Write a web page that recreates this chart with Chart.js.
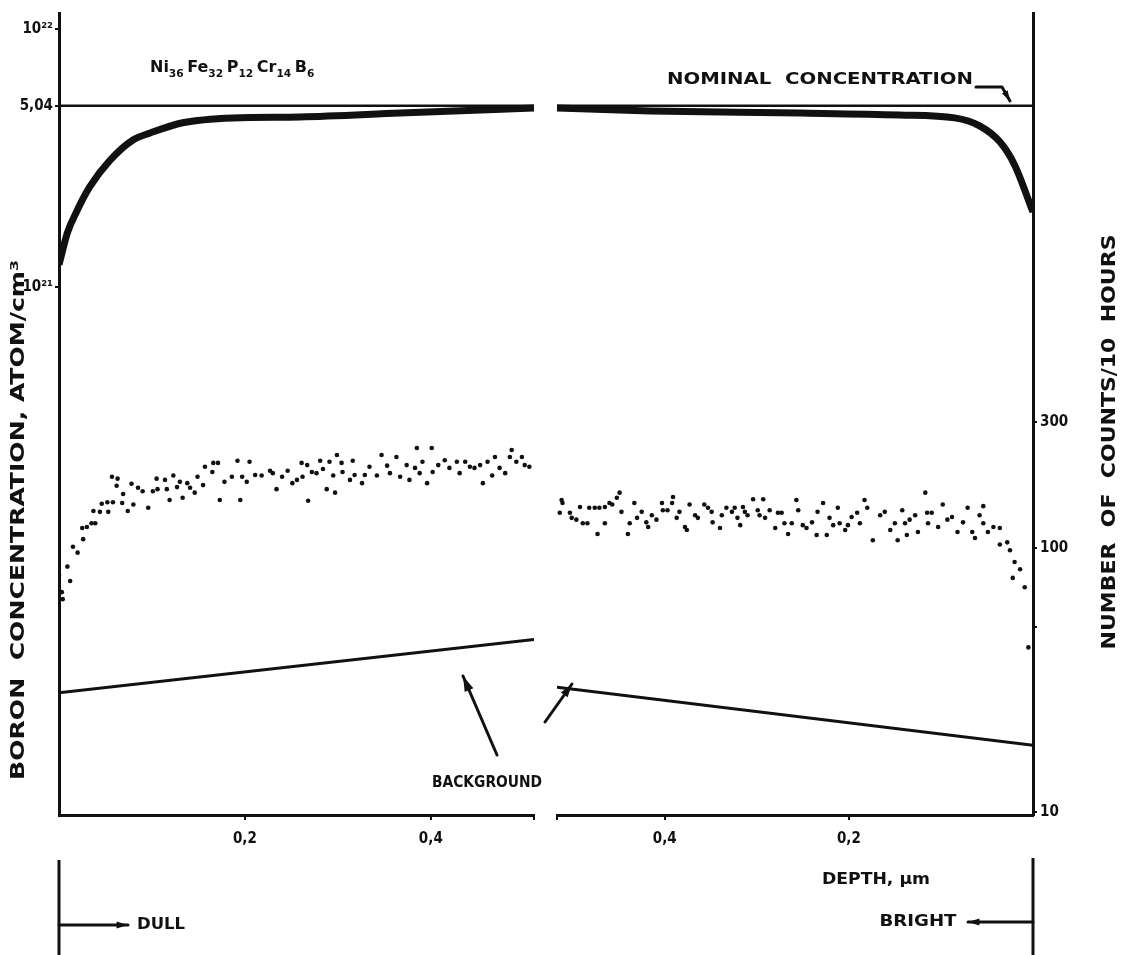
<!DOCTYPE html>
<html>
<head>
<meta charset="utf-8">
<title>Boron depth profile</title>
<script src="https://cdn.jsdelivr.net/npm/chart.js@4"></script>
<style>
  html, body { margin: 0; padding: 0; background: #fff; }
  #wrap { position: relative; width: 1122px; height: 955px; }
  #wrap canvas { position: absolute; left: 0; top: 0; }
</style>
</head>
<body>
<div id="wrap">
  <canvas id="dullChart" width="1122" height="955"></canvas>
  <canvas id="brightChart" width="1122" height="955"></canvas>
</div>
<script>
// --- data ---
// depth in µm, concentration in atom/cm3, counts per 10 hours

const depthTicks = [0.2, 0.4];
const depthTickLabels = ['0,2', '0,4'];
const concTicks = [1e22, 5.04e21, 1e21];
const concTickLabels = ['10²²', '5,04', '10²¹'];
const countTicks = [300, 100, 50, 10];
const countTickLabels = ['300', '100', '', '10'];

const nominalConc = 5.04e21;

// dull side (left panel)
const dullCurveDepth = [0, 0.009, 0.019, 0.033, 0.055, 0.080, 0.098, 0.133, 0.187, 0.259, 0.367, 0.511];
const dullCurveConc = [1.22e21, 1.62e21, 1.96e21, 2.44e21, 3.10e21, 3.72e21, 3.95e21, 4.33e21, 4.52e21, 4.56e21, 4.72e21, 4.94e21];
const dullBgDepth = [0, 0.511];
const dullBgCounts = [28.3, 45];
const dullDepth = [0.000, 0.003, 0.004, 0.009, 0.012, 0.015, 0.020, 0.026, 0.025, 0.030, 0.035, 0.039, 0.037, 0.044, 0.046, 0.052, 0.053, 0.058, 0.057, 0.063, 0.062, 0.069, 0.068, 0.074, 0.080, 0.078, 0.085, 0.090, 0.096, 0.101, 0.105, 0.106, 0.114, 0.116, 0.119, 0.123, 0.127, 0.130, 0.133, 0.138, 0.141, 0.146, 0.149, 0.155, 0.157, 0.165, 0.166, 0.171, 0.173, 0.178, 0.186, 0.192, 0.195, 0.197, 0.202, 0.205, 0.211, 0.218, 0.227, 0.230, 0.234, 0.240, 0.246, 0.251, 0.256, 0.261, 0.262, 0.267, 0.268, 0.272, 0.277, 0.281, 0.284, 0.288, 0.291, 0.295, 0.297, 0.299, 0.304, 0.305, 0.313, 0.316, 0.318, 0.326, 0.329, 0.334, 0.342, 0.347, 0.353, 0.356, 0.363, 0.367, 0.374, 0.377, 0.383, 0.385, 0.388, 0.391, 0.396, 0.401, 0.402, 0.408, 0.415, 0.420, 0.428, 0.431, 0.437, 0.442, 0.447, 0.453, 0.456, 0.461, 0.466, 0.469, 0.474, 0.480, 0.485, 0.487, 0.492, 0.498, 0.501, 0.506];
const dullCounts = [79, 68, 64, 85, 75, 101, 96, 108, 119, 120, 124, 124, 138, 137, 147, 149, 137, 149, 186, 183, 172, 160, 148, 138, 146, 175, 169, 164, 142, 164, 183, 167, 181, 167, 152, 188, 170, 178, 155, 176, 169, 162, 186, 173, 203, 194, 210, 210, 152, 178, 186, 214, 152, 186, 178, 212, 189, 188, 196, 192, 167, 186, 196, 176, 181, 210, 186, 206, 151, 194, 192, 214, 199, 167, 212, 188, 162, 225, 210, 194, 181, 214, 189, 176, 189, 203, 188, 225, 205, 192, 221, 186, 206, 181, 201, 239, 192, 212, 176, 239, 194, 206, 215, 201, 212, 192, 212, 203, 201, 206, 176, 212, 188, 221, 201, 192, 221, 235, 212, 221, 206, 203];

// bright side (right panel, depth runs right to left)
const brightCurveDepth = [0.517, 0.416, 0.253, 0.145, 0.085, 0.058, 0.036, 0.020, 0];
const brightCurveConc = [4.94e21, 4.81e21, 4.72e21, 4.64e21, 4.52e21, 4.21e21, 3.65e21, 2.97e21, 1.95e21];
const brightBgDepth = [0.517, 0];
const brightBgCounts = [29.7, 17.9];
const brightDepth = [0.512, 0.511, 0.514, 0.503, 0.501, 0.496, 0.492, 0.489, 0.484, 0.482, 0.476, 0.473, 0.471, 0.465, 0.465, 0.460, 0.457, 0.452, 0.449, 0.447, 0.440, 0.438, 0.433, 0.430, 0.425, 0.420, 0.418, 0.414, 0.409, 0.403, 0.402, 0.397, 0.392, 0.391, 0.387, 0.384, 0.378, 0.376, 0.373, 0.367, 0.364, 0.357, 0.353, 0.349, 0.348, 0.340, 0.338, 0.333, 0.327, 0.324, 0.321, 0.318, 0.315, 0.313, 0.310, 0.304, 0.299, 0.297, 0.293, 0.291, 0.286, 0.280, 0.277, 0.273, 0.270, 0.266, 0.262, 0.257, 0.255, 0.250, 0.246, 0.240, 0.235, 0.234, 0.228, 0.224, 0.221, 0.217, 0.212, 0.210, 0.204, 0.201, 0.197, 0.191, 0.188, 0.183, 0.180, 0.174, 0.166, 0.161, 0.155, 0.150, 0.147, 0.142, 0.139, 0.137, 0.134, 0.128, 0.125, 0.117, 0.115, 0.114, 0.110, 0.103, 0.098, 0.093, 0.088, 0.082, 0.076, 0.071, 0.066, 0.063, 0.058, 0.054, 0.054, 0.049, 0.043, 0.036, 0.036, 0.028, 0.025, 0.020, 0.022, 0.014, 0.009, 0.005];
const brightCounts = [152, 148, 136, 136, 130, 128, 143, 124, 124, 142, 142, 113, 142, 143, 124, 148, 146, 155, 162, 137, 113, 124, 148, 130, 137, 125, 120, 133, 128, 148, 139, 139, 148, 156, 130, 137, 120, 117, 146, 133, 130, 146, 142, 137, 125, 119, 133, 142, 137, 142, 130, 122, 143, 137, 133, 153, 139, 133, 153, 130, 139, 119, 136, 136, 124, 113, 124, 152, 139, 122, 119, 125, 112, 137, 148, 112, 130, 122, 142, 124, 117, 122, 131, 136, 124, 152, 142, 107, 133, 137, 117, 124, 107, 139, 124, 112, 128, 133, 115, 162, 136, 124, 136, 120, 146, 128, 131, 115, 125, 142, 115, 109, 133, 144, 124, 115, 120, 119, 103, 105, 98, 88.5, 77, 83, 71, 42];

// axis extents
const DULL_DEPTH_MAX = 0.511;
const BRIGHT_DEPTH_MAX = 0.517;
const CONC_MIN = 8.97e18, CONC_MAX = 1.153e22;
const COUNT_MIN = 9.74, COUNT_MAX = 10620;

// --- helpers ---
const FONT = "'DejaVu Sans Condensed', 'DejaVu Sans', sans-serif";
const INK = '#111';

const toPoints = (xs, ys) => xs.map((x, i) => ({ x: x, y: ys[i] }));

function fitText(ctx, text, cx, cy, width, size, rot) {
    ctx.save();
    ctx.font = `bold ${size}px ${FONT}`;
    ctx.fillStyle = INK;
    ctx.textAlign = 'center';
    ctx.textBaseline = 'middle';
    ctx.translate(cx, cy);
    if (rot) ctx.rotate(rot);
    const w = ctx.measureText(text).width;
    ctx.scale(width / w, 1);
    ctx.fillText(text, 0, 0);
    ctx.restore();
}

function arrow(ctx, pts, head) {
    ctx.save();
    ctx.strokeStyle = INK;
    ctx.fillStyle = INK;
    ctx.lineWidth = 3;
    ctx.lineCap = 'round';
    ctx.lineJoin = 'round';
    ctx.beginPath();
    ctx.moveTo(pts[0][0], pts[0][1]);
    for (let i = 1; i < pts.length; i++) ctx.lineTo(pts[i][0], pts[i][1]);
    ctx.stroke();
    const [x1, y1] = pts[pts.length - 2];
    const [x2, y2] = pts[pts.length - 1];
    const a = Math.atan2(y2 - y1, x2 - x1);
    const len = head || 13;
    ctx.beginPath();
    ctx.moveTo(x2, y2);
    ctx.lineTo(x2 - len * Math.cos(a - 0.3), y2 - len * Math.sin(a - 0.3));
    ctx.lineTo(x2 - len * Math.cos(a + 0.3), y2 - len * Math.sin(a + 0.3));
    ctx.closePath();
    ctx.fill();
    ctx.restore();
}

function line(ctx, x1, y1, x2, y2, w) {
    ctx.save();
    ctx.strokeStyle = INK;
    ctx.lineWidth = w || 3;
    ctx.beginPath();
    ctx.moveTo(x1, y1);
    ctx.lineTo(x2, y2);
    ctx.stroke();
    ctx.restore();
}

function drawFormula(ctx, parts, x, y, width) {
    ctx.save();
    ctx.fillStyle = INK;
    ctx.textBaseline = 'alphabetic';
    const big = `bold 15px ${FONT}`, small = `bold 10px ${FONT}`;
    let total = 0;
    parts.forEach(([el, n]) => {
        ctx.font = big; total += ctx.measureText(el).width;
        ctx.font = small; total += ctx.measureText(n).width + 3;
    });
    ctx.translate(x, y);
    ctx.scale(width / total, 1);
    let cx = 0;
    parts.forEach(([el, n]) => {
        ctx.font = big; ctx.fillText(el, cx, 0); cx += ctx.measureText(el).width;
        ctx.font = small; ctx.fillText(n, cx, 5); cx += ctx.measureText(n).width + 3;
    });
    ctx.restore();
}

// --- shared axis settings ---
const tickFont = { family: FONT, weight: 'bold', size: 15 };

function depthAxis(max, reverse) {
    return {
        type: 'linear',
        position: 'bottom',
        min: 0,
        max: max,
        reverse: reverse,
        afterBuildTicks: (s) => { s.ticks = depthTicks.concat([max]).map(v => ({ value: v })); },
        afterFit: (s) => { s.height = 140; },
        ticks: {
            autoSkip: false,
            maxRotation: 0,
            padding: 10,
            color: INK,
            font: tickFont,
            callback: (v) => { const i = depthTicks.indexOf(v); return i >= 0 ? depthTickLabels[i] : ''; }
        },
        grid: { drawOnChartArea: false, drawTicks: true, tickLength: 5, color: INK, lineWidth: 2 },
        border: { display: true, color: INK, width: 3 }
    };
}

function concAxis(show) {
    return {
        type: 'logarithmic',
        position: 'left',
        display: show,
        min: CONC_MIN,
        max: CONC_MAX,
        afterBuildTicks: (s) => { s.ticks = concTicks.map(v => ({ value: v })); },
        afterFit: (s) => { s.width = show ? 59 : 0; },
        ticks: {
            autoSkip: false,
            padding: 2,
            color: INK,
            font: tickFont,
            callback: (v) => { const i = concTicks.indexOf(v); return i >= 0 ? concTickLabels[i] : ''; }
        },
        grid: { drawOnChartArea: false, drawTicks: true, tickLength: 4, color: INK, lineWidth: 2 },
        border: { display: true, color: INK, width: 3 }
    };
}

function countAxis(show) {
    return {
        type: 'logarithmic',
        position: 'right',
        display: show,
        min: COUNT_MIN,
        max: COUNT_MAX,
        afterBuildTicks: (s) => { s.ticks = countTicks.map(v => ({ value: v })); },
        afterFit: (s) => { s.width = show ? 89 : 0; },
        ticks: {
            autoSkip: false,
            padding: 3,
            color: INK,
            font: tickFont,
            callback: (v) => { const i = countTicks.indexOf(v); return i >= 0 ? countTickLabels[i] : ''; }
        },
        grid: { drawOnChartArea: false, drawTicks: true, tickLength: 4, color: INK, lineWidth: 2 },
        border: { display: true, color: INK, width: 3 }
    };
}

function datasets(curveDepth, curveConc, depthMax, bgDepth, bgCounts, depth, counts) {
    return [
        {
            label: 'Nominal concentration',
            data: toPoints([0, depthMax], [nominalConc, nominalConc]),
            yAxisID: 'yc',
            borderColor: INK, borderWidth: 2.5, pointRadius: 0
        },
        {
            label: 'Boron concentration',
            data: toPoints(curveDepth, curveConc),
            yAxisID: 'yc',
            borderColor: INK, borderWidth: 7, pointRadius: 0,
            cubicInterpolationMode: 'monotone', borderCapStyle: 'butt'
        },
        {
            label: 'Background',
            data: toPoints(bgDepth, bgCounts),
            yAxisID: 'yn',
            borderColor: INK, borderWidth: 3, pointRadius: 0
        },
        {
            label: 'Counts',
            data: toPoints(depth, counts),
            yAxisID: 'yn',
            showLine: false,
            pointRadius: 2.3,
            pointBorderWidth: 0,
            pointBackgroundColor: INK
        }
    ];
}

const baseOptions = {
    responsive: false,
    animation: false,
    events: [],
    plugins: { legend: { display: false }, tooltip: { enabled: false } }
};

// --- annotations ---
const dullNotes = {
    id: 'dullNotes',
    afterDraw(chart) {
        const ctx = chart.ctx;
        fitText(ctx, 'BORON  CONCENTRATION, ATOM/cm³', 19, 520, 520, 19, -Math.PI / 2);
        drawFormula(ctx, [['Ni', '36'], ['Fe', '32'], ['P', '12'], ['Cr', '14'], ['B', '6']], 150, 72, 168);
        fitText(ctx, 'BACKGROUND', 487, 783, 110, 15);
        arrow(ctx, [[497, 755], [463, 676]], 16);
        arrow(ctx, [[545, 722], [572, 684]], 14);
        // dull bracket
        line(ctx, 59, 860, 59, 955, 3);
        arrow(ctx, [[59, 925], [128, 925]], 12);
        fitText(ctx, 'DULL', 161, 925, 48, 15);
    }
};

const brightNotes = {
    id: 'brightNotes',
    afterDraw(chart) {
        const ctx = chart.ctx;
        fitText(ctx, 'NOMINAL  CONCENTRATION', 820, 80, 306, 16);
        arrow(ctx, [[976, 87], [1002, 87], [1010, 101]], 11);
        fitText(ctx, 'NUMBER  OF  COUNTS/10  HOURS', 1110, 442, 415, 19, -Math.PI / 2);
        fitText(ctx, 'DEPTH, µm', 876, 880, 108, 15);
        // bright bracket
        line(ctx, 1033, 858, 1033, 955, 3);
        arrow(ctx, [[1033, 922], [968, 922]], 12);
        fitText(ctx, 'BRIGHT', 918, 922, 77, 15);
    }
};

// --- charts ---
new Chart(document.getElementById('dullChart'), {
    type: 'line',
    data: {
        datasets: datasets(dullCurveDepth, dullCurveConc, DULL_DEPTH_MAX, dullBgDepth, dullBgCounts, dullDepth, dullCounts)
    },
    options: Object.assign({}, baseOptions, {
        layout: { padding: { left: 0, top: 13, right: 1122 - 534, bottom: 0 } },
        scales: {
            x: depthAxis(DULL_DEPTH_MAX, false),
            yc: concAxis(true),
            yn: countAxis(false)
        }
    }),
    plugins: [dullNotes]
});

new Chart(document.getElementById('brightChart'), {
    type: 'line',
    data: {
        datasets: datasets(brightCurveDepth, brightCurveConc, BRIGHT_DEPTH_MAX, brightBgDepth, brightBgCounts, brightDepth, brightCounts)
    },
    options: Object.assign({}, baseOptions, {
        layout: { padding: { left: 557, top: 13, right: 0, bottom: 0 } },
        scales: {
            x: depthAxis(BRIGHT_DEPTH_MAX, true),
            yc: concAxis(false),
            yn: countAxis(true)
        }
    }),
    plugins: [brightNotes]
});
</script>
</body>
</html>
